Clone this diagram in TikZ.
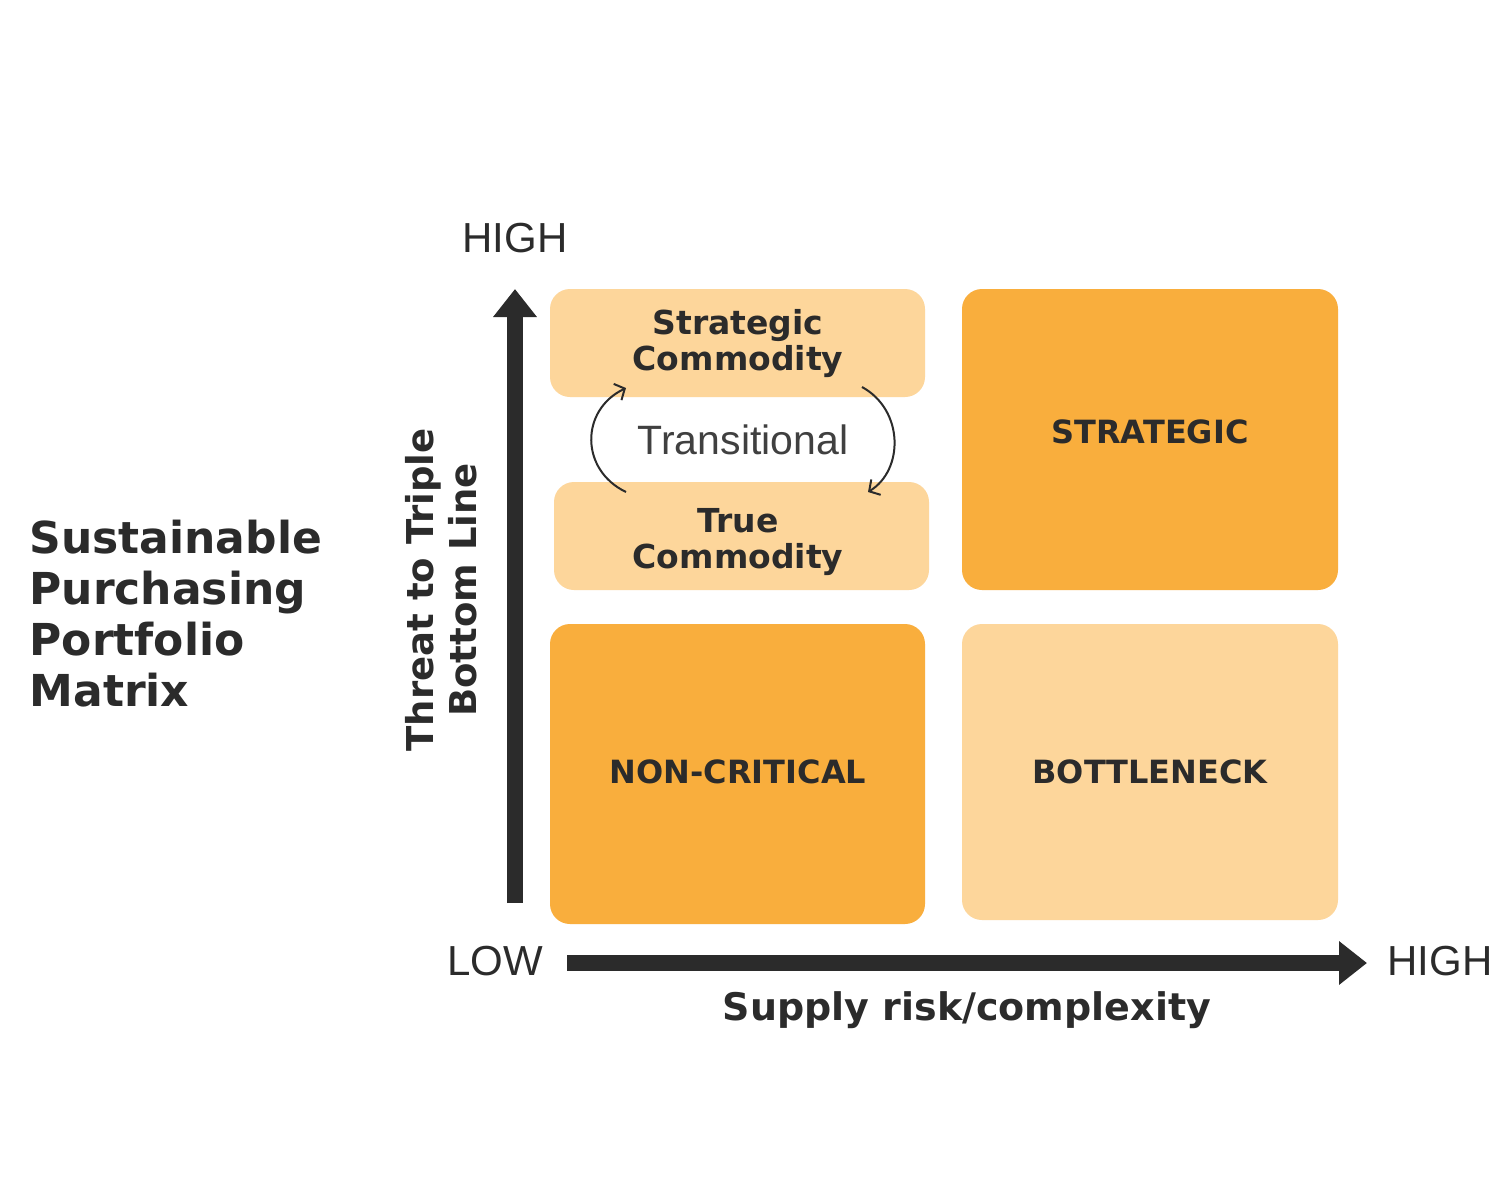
\documentclass[tikz,border=0pt]{standalone}
\usepackage{fontspec}
\setmainfont{Liberation Sans}
\newfontfamily\hd{DejaVu Sans}
\usetikzlibrary{arrows.meta}
\definecolor{lightor}{HTML}{FDD69B}
\definecolor{darkor}{HTML}{F9AE3D}
\definecolor{ink}{HTML}{2B2B2B}
\tikzset{
  cell/.style={rounded corners=20pt, inner sep=0pt},
  lab/.style={text=ink, font=\hd\bfseries\fontsize{33}{36}\selectfont, align=center},
  caplab/.style={text=ink, font=\hd\bfseries\fontsize{32}{36}\selectfont},
  axtxt/.style={text=ink, font=\fontsize{42}{44}\selectfont},
  bigarrow/.style={line width=16pt, draw=ink, -{Triangle[width=42pt,length=28pt]}},
  turn/.style={line width=2pt, draw=ink, -{Straight Barb[length=8pt,width=18pt]}},
}
\begin{document}
\begin{tikzpicture}[x=1pt,y=-1pt]
\fill[white] (0,0) rectangle (1500,1200);
\useasboundingbox (0,0) rectangle (1500,1200);
% cells
\fill[lightor,cell] (550,289) rectangle (925,397);
\node[lab] (sc) at (738,344) {Strategic\\Commodity};
\fill[lightor,cell] (554,482) rectangle (929,590);
\node[lab] (tc) at (738,542) {True\\Commodity};
\fill[darkor,cell] (962,289) rectangle (1338,590);
\node[caplab] (st) at (1150,432) {STRATEGIC};
\fill[darkor,cell] (550,624) rectangle (925,924);
\node[caplab] (nc) at (738,772) {NON-CRITICAL};
\fill[lightor,cell] (962,624) rectangle (1338,920);
\node[caplab] (bn) at (1150,772) {BOTTLENECK};
% transitional
\node[text=ink!90, font=\fontsize{41}{44}\selectfont] (tr) at (743,440) {Transitional};
\coordinate (l1) at (626,492);
\coordinate (l2) at (626,388);
\coordinate (r1) at (862,387);
\coordinate (r2) at (868,492);
\draw[turn] (l1) .. controls (580,470) and (580,410) .. (l2);
\draw[turn] (r1) .. controls (904,410) and (904,470) .. (r2);
% axes
\coordinate (vb) at (515,903);
\coordinate (vt) at (515,289);
\draw[bigarrow] (vb) -- (vt);
\coordinate (hl) at (567,963);
\coordinate (hr) at (1367,963);
\draw[bigarrow] (hl) -- (hr);
\node[axtxt] (hy) at (515,238) {HIGH};
\node[axtxt] (lx) at (495,961) {LOW};
\node[axtxt] (hx) at (1440,961) {HIGH};
\node[lab, font=\hd\bfseries\fontsize{38}{40}\selectfont] (xl) at (967,1010) {Supply risk/complexity};
\node[lab, rotate=90, font=\hd\bfseries\fontsize{37}{43}\selectfont] (yl) at (441,590) {Threat to Triple\\Bottom Line};
\node[text=ink, font=\hd\bfseries\fontsize{44}{51}\selectfont, align=left, anchor=west] (ti) at (26,614) {Sustainable\\Purchasing\\Portfolio\\Matrix};
\end{tikzpicture}
\end{document}
